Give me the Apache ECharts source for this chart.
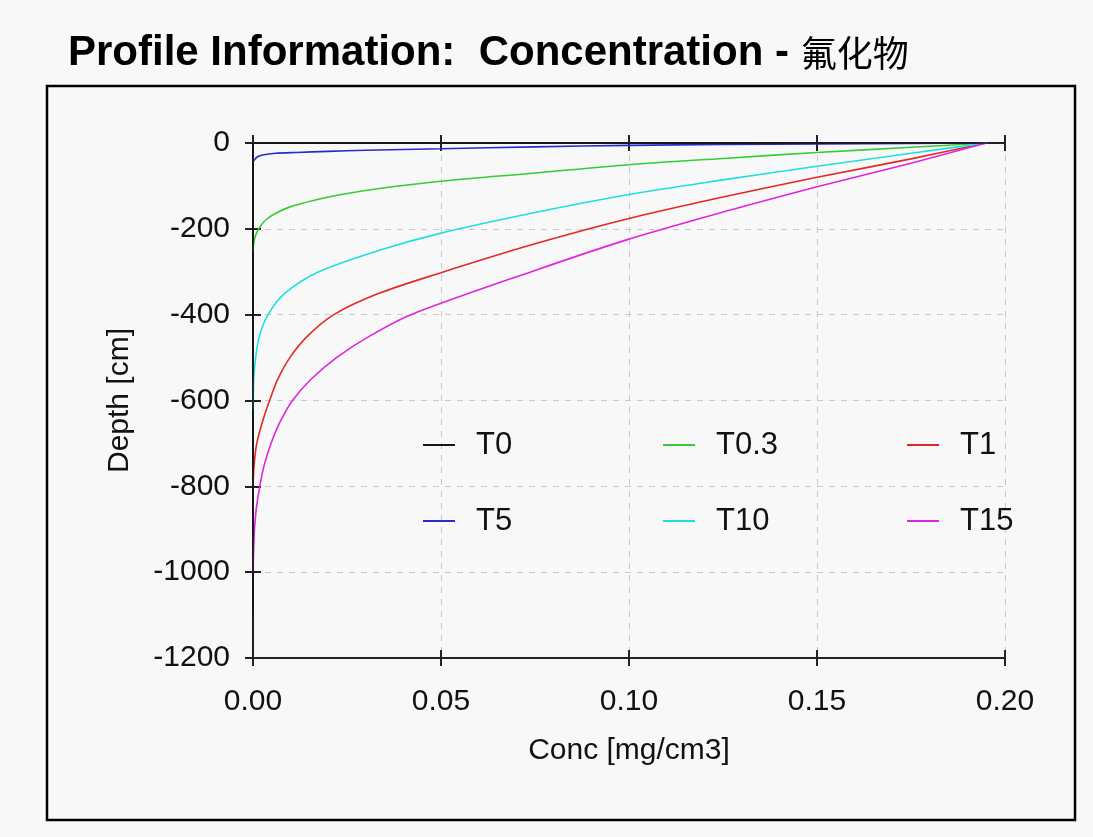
<!DOCTYPE html>
<html>
<head>
<meta charset="utf-8">
<script src="https://cdn.jsdelivr.net/npm/echarts@6/dist/echarts.min.js"></script>
<style>
  html, body { margin: 0; padding: 0; background: #f8f8f8; }
  #myChart { width: 1093px; height: 837px; }
</style>
</head>
<body>
<div id="myChart"></div>
<script>
// 数据：每条曲线 [浓度, 深度]
var seriesNames = ['T0', 'T0.3', 'T1', 'T5', 'T10', 'T15'];
var seriesColors = ['#151515', '#35cc35', '#e22828', '#2a2ac8', '#22dede', '#e024e0'];

var t0 = [[0.195, 0], [0, -0.5], [0, -1100]];
var t03 = [[0, -252], [0.0001, -240], [0.0005, -220], [0.0015, -200], [0.0033, -180], [0.0058, -165],
  [0.0095, -150], [0.016, -134], [0.0235, -120], [0.0336, -106], [0.05, -89], [0.075, -70],
  [0.1, -50.5], [0.125, -36], [0.15, -22], [0.175, -10], [0.195, 0]];
var t1 = [[0, -800], [0.0003, -750], [0.001, -700], [0.0025, -650], [0.0044, -600], [0.0066, -550],
  [0.0098, -500], [0.0145, -450], [0.0215, -400], [0.033, -352], [0.049, -305], [0.075, -235],
  [0.1, -176], [0.125, -126], [0.15, -80], [0.175, -37], [0.195, 0]];
var t5 = [[0, -44], [0.0005, -38], [0.0012, -32], [0.0025, -28], [0.006, -24], [0.0115, -22],
  [0.02, -19.5], [0.03, -17], [0.05, -13.5], [0.075, -9], [0.1, -5.5], [0.125, -3.5],
  [0.15, -2], [0.175, -1], [0.195, 0]];
var t10 = [[0, -620], [0.00005, -600], [0.0002, -550], [0.0007, -500], [0.0017, -450], [0.004, -400],
  [0.0085, -350], [0.0175, -300], [0.0336, -250], [0.05, -210], [0.075, -162], [0.1, -120],
  [0.125, -86], [0.15, -54], [0.175, -24], [0.195, 0]];
var t15 = [[0, -1000], [0.00015, -950], [0.0004, -900], [0.0009, -850], [0.0018, -800], [0.003, -750],
  [0.0048, -700], [0.0072, -650], [0.0105, -600], [0.0155, -550], [0.0222, -500], [0.031, -450],
  [0.042, -400], [0.075, -297], [0.1, -224], [0.125, -161], [0.15, -102],
  [0.175, -47], [0.195, 0]];
var seriesData = [t0, t03, t1, t5, t10, t15];

var myChart = echarts.init(document.getElementById('myChart'));

var font = 'Liberation Sans, Arial, sans-serif';
var axisColor = '#222';

function xAxisOf(pos, inside, main) {
  return {
    type: 'value', min: 0, max: 0.2, interval: 0.05, position: pos,
    name: main ? 'Conc [mg/cm3]' : '',
    nameLocation: 'middle', nameGap: 78,
    nameTextStyle: { color: '#111', fontSize: 30, fontFamily: font },
    axisLine: { show: true, onZero: false, lineStyle: { color: axisColor, width: 2 } },
    axisTick: { show: true, inside: inside, length: 8, lineStyle: { color: axisColor, width: 2 } },
    axisLabel: {
      show: main, margin: 29, color: '#111', fontSize: 30, fontFamily: font,
      formatter: function (v) { return v.toFixed(2); }
    },
    splitLine: { show: main, lineStyle: { color: '#c9c9c9', type: [6, 6], width: 1 } }
  };
}

function yAxisOf(inside, main) {
  return {
    type: 'value', min: -1200, max: 0, interval: 200, position: 'left',
    name: main ? 'Depth [cm]' : '',
    nameLocation: 'middle', nameGap: 118, nameRotate: 90,
    nameTextStyle: { color: '#111', fontSize: 30, fontFamily: font },
    axisLine: { show: true, onZero: false, lineStyle: { color: axisColor, width: 2 } },
    axisTick: { show: true, inside: inside, length: 8, lineStyle: { color: axisColor, width: 2 } },
    axisLabel: {
      show: main, margin: 23, color: '#111', fontSize: 30, fontFamily: font,
      formatter: function (v) { return String(v); }
    },
    splitLine: { show: main, lineStyle: { color: '#c9c9c9', type: [6, 6], width: 1 } }
  };
}

var series = seriesNames.map(function (name, i) {
  return {
    name: name,
    type: 'line',
    data: seriesData[i],
    xAxisIndex: 0,
    yAxisIndex: 0,
    symbol: 'none',
    smooth: i === 0 ? false : 0.3,
    lineStyle: { color: seriesColors[i], width: 1.6 },
    itemStyle: { color: seriesColors[i] },
    z: i === 0 ? 4 : 3
  };
});

function legendCol(left, names) {
  return {
    orient: 'vertical', left: left, top: 424,
    icon: 'rect', itemWidth: 32, itemHeight: 2, itemGap: 44,
    selectedMode: false,
    textStyle: { color: '#111', fontSize: 31, lineHeight: 32, fontFamily: font, padding: [0, 0, 0, 16] },
    data: names
  };
}

myChart.setOption({
  backgroundColor: '#f8f8f8',
  animation: false,
  title: {
    left: 63, top: 27,
    text: '{a|Profile Information:  Concentration - }{b|氟化物}',
    textStyle: {
      rich: {
        a: { fontSize: 42, fontWeight: 'bold', color: '#000', fontFamily: font },
        b: { fontSize: 36, fontWeight: 'normal', color: '#000', fontFamily: 'Noto Sans CJK SC' }
      }
    }
  },
  graphic: [{
    type: 'rect', z: 0, silent: true,
    shape: { x: 47, y: 86, width: 1028, height: 734 },
    style: { fill: 'none', stroke: '#000', lineWidth: 2.5 }
  }],
  grid: { left: 253, right: 88, top: 143, bottom: 179, containLabel: false },
  xAxis: [
    xAxisOf('bottom', false, true),
    xAxisOf('bottom', true, false),
    xAxisOf('top', false, false),
    xAxisOf('top', true, false)
  ],
  yAxis: [yAxisOf(false, true), yAxisOf(true, false)],
  legend: [
    legendCol(418, ['T0', 'T5']),
    legendCol(658, ['T0.3', 'T10']),
    legendCol(902, ['T1', 'T15'])
  ],
  series: series
});
</script>
</body>
</html>
